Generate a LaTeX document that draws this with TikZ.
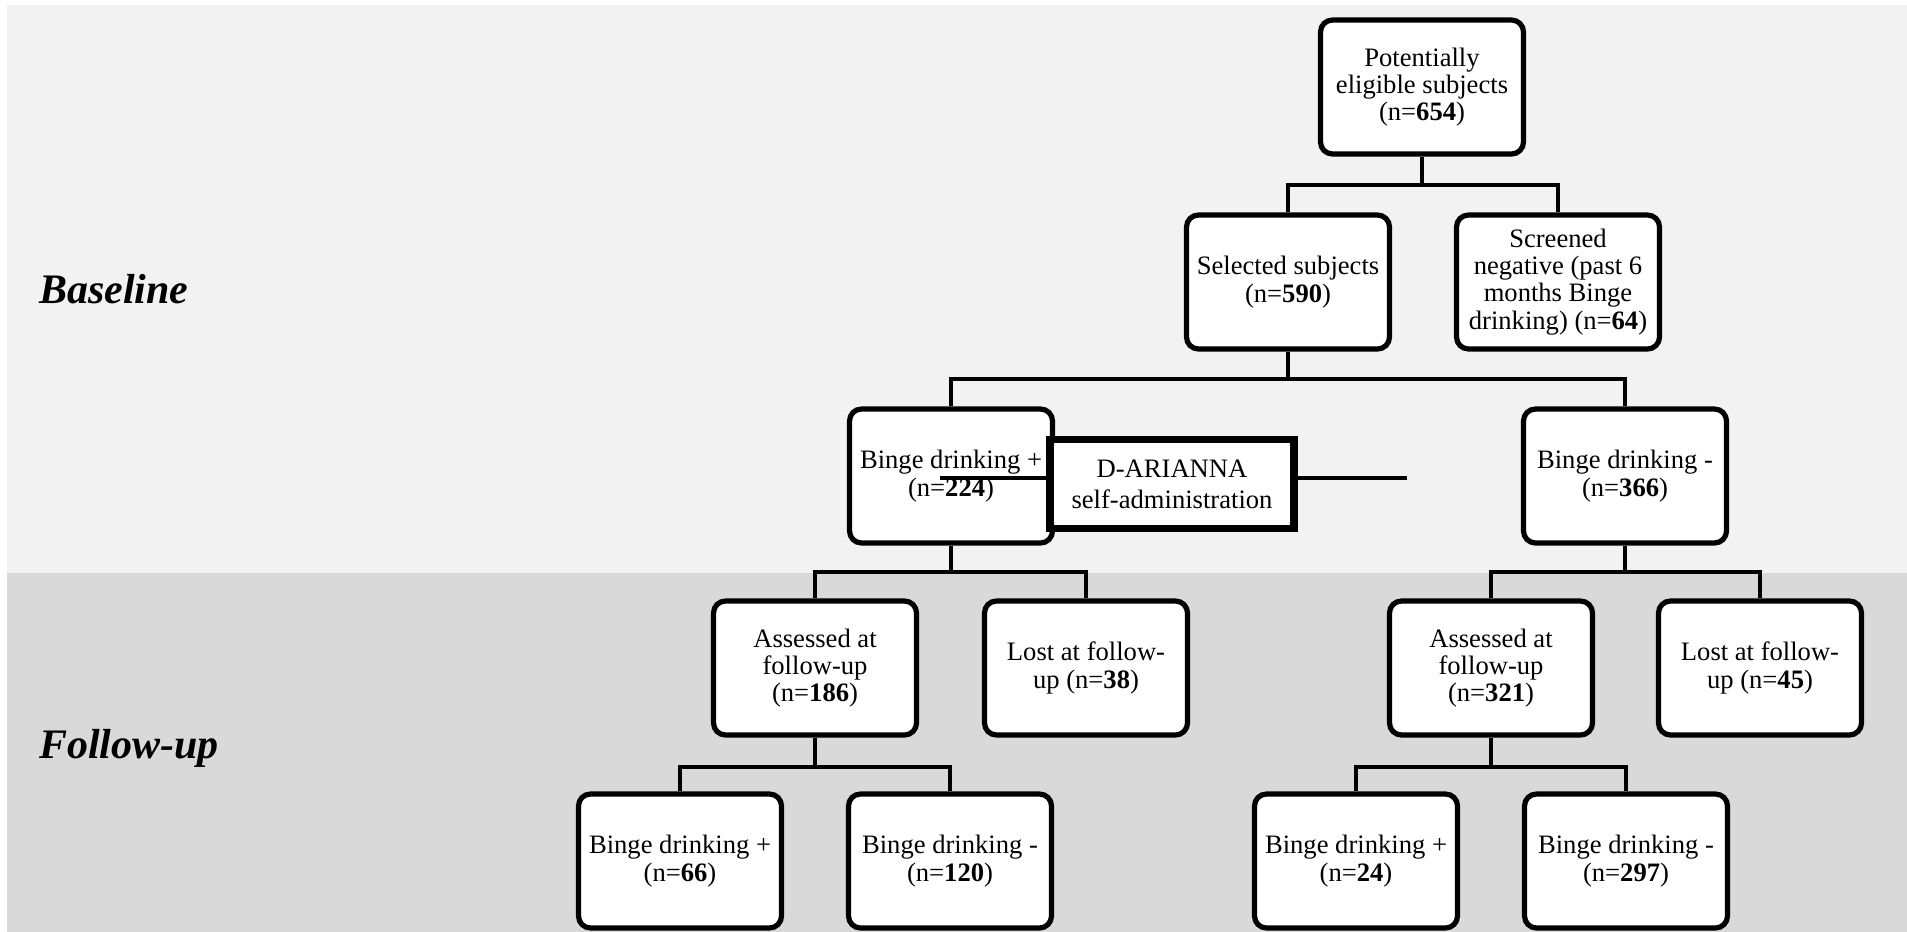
\documentclass[tikz,border=0pt]{standalone}
\usepackage{fontspec}
\setmainfont{Liberation Serif}
\usetikzlibrary{positioning}
\definecolor{paleband}{RGB}{242,242,242}
\definecolor{greyband}{RGB}{217,217,217}

\begin{document}
\begin{tikzpicture}[x=0.5pt,y=-0.5pt,
    box/.style={draw,line width=2.6pt,rounded corners=6pt,fill=white,align=center,
      minimum width=101.5pt,minimum height=67pt,inner sep=2pt,
      font={\fontsize{13.3pt}{13.6pt}\selectfont}},
    conn/.style={line width=2.4pt},
    stage/.style={anchor=base west,font={\fontsize{21pt}{25pt}\selectfont\bfseries\itshape}}]
        \useasboundingbox (0,0) rectangle (1907,932);
        % bands
        \fill[paleband] (7,5) rectangle (1907,573);
        \fill[greyband] (7,573) rectangle (1907,932);
        \node[stage] (base) at (32,303) {Baseline};
        \node[stage] (fup) at (32,758) {Follow-up};
        % baseline boxes
        \node[box] (pot) at (1422,87) {Potentially\\eligible subjects\\(n=\textbf{654})};
        \node[box] (sel) at (1288,282) {Selected subjects\\(n=\textbf{590})};
        \node[box] (scr) at (1558,282) {Screened\\negative (past 6\\months Binge\\drinking) (n=\textbf{64})};
        \node[box] (bdp) at (951,476) {Binge drinking +\\(n=\textbf{224})};
        \node[box] (bdm) at (1625,476) {Binge drinking -\\(n=\textbf{366})};
        % follow-up boxes
        \foreach \nm/\x/\lab in {ass1/815/{Assessed at\\follow-up\\(n=\textbf{186})},lost1/1086/{Lost at follow-\\up (n=\textbf{38})},
            ass2/1491/{Assessed at\\follow-up\\(n=\textbf{321})},lost2/1760/{Lost at follow-\\up (n=\textbf{45})}}
          \node[box] (\nm) at (\x,668) {\lab};
        \foreach \nm/\x/\s/\n in {b1p/680/+/66,b1m/950/-/120,b2p/1356/+/24,b2m/1626/-/297}
          \node[box] (\nm) at (\x,861) {Binge drinking \s\\(n=\textbf{\n})};
        % junctions
        \coordinate (j1) at (1422,185);
        \coordinate (j2) at (1288,379);
        \coordinate (j3) at (951,572);
        \coordinate (j4) at (1625,572);
        \coordinate (j5) at (815,767);
        \coordinate (j6) at (1491,767);
        \draw[conn] (pot.south) -- (j1);
        \draw[conn] (sel.north) |- (j1) -| (scr.north);
        \draw[conn] (sel.south) -- (j2);
        \draw[conn] (bdp.north) |- (j2) -| (bdm.north);
        \draw[conn] (bdp.south) -- (j3);
        \draw[conn] (ass1.north) |- (j3) -| (lost1.north);
        \draw[conn] (bdm.south) -- (j4);
        \draw[conn] (ass2.north) |- (j4) -| (lost2.north);
        \draw[conn] (ass1.south) -- (j5);
        \draw[conn] (b1p.north) |- (j5) -| (b1m.north);
        \draw[conn] (ass2.south) -- (j6);
        \draw[conn] (b2p.north) |- (j6) -| (b2m.north);
        % intervention
        \coordinate (dl) at (940,478);
        \coordinate (dr) at (1407,478);
        \draw[line width=2.2pt] (dl) -- (dr);
        \node[draw,line width=3.6pt,fill=white,align=center,minimum width=122pt,minimum height=44.5pt,
          font={\fontsize{13.3pt}{15.5pt}\selectfont}] (dar) at (1172,484) {D-ARIANNA\\self-administration};
      \end{tikzpicture}
\end{document}
